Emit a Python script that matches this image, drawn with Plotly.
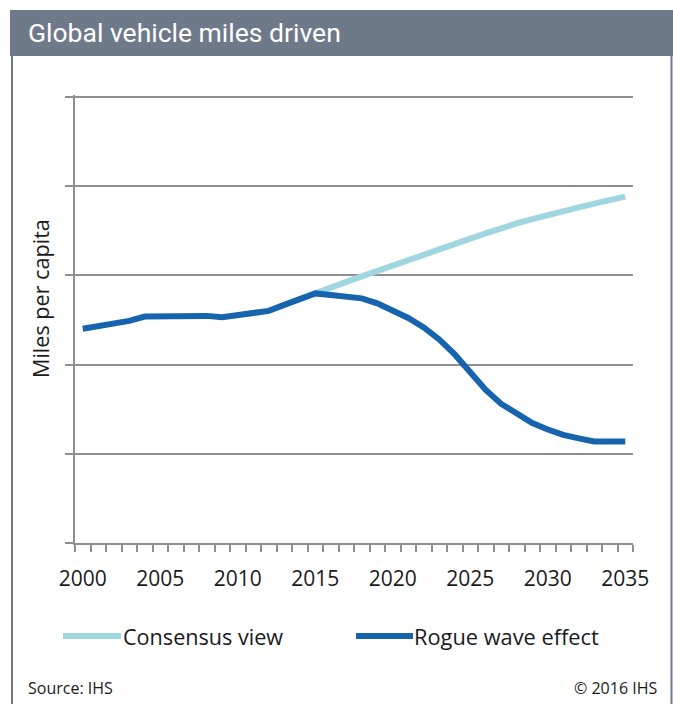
import plotly.graph_objects as go

# ---------------- data ----------------
years = list(range(2000, 2036))
rogue_wave = [2.40, 2.427, 2.455, 2.489, 2.537, 2.541, 2.548, 2.556, 2.545, 2.530,
              2.550, 2.573, 2.601, 2.668, 2.735, 2.797, 2.780, 2.769, 2.741, 2.685,
              2.612, 2.522, 2.416, 2.281, 2.113, 1.911, 1.715, 1.558, 1.446, 1.345,
              1.272, 1.211, 1.172, 1.138, 1.138, 1.138]
consensus = [None] * 15 + [2.797, 2.853, 2.926, 2.988, 3.046, 3.105, 3.167, 3.229,
                           3.289, 3.349, 3.410, 3.470, 3.531, 3.581, 3.629, 3.677,
                           3.722, 3.761, 3.803, 3.843, 3.882]
label_years = [2000, 2005, 2010, 2015, 2020, 2025, 2030, 2035]
grid_values = [0, 1, 2, 3, 4, 5]
series_names = ["Consensus view", "Rogue wave effect"]
title_text = "Global vehicle miles driven"
y_title = "Miles per capita"
source_text = "Source: IHS"
copyright_text = "© 2016 IHS"

# ---------------- style ----------------
W, H = 673, 704
ML, MR, MT, MB = 75, 40, 95, 161
PW, PH = W - ML - MR, H - MT - MB
LIGHT = "#9fd6df"
DARK = "#1764ae"
GRID = "#8f8f8f"
FRAME = "#6e7a8a"
TXT = "#1a1a1a"
FONT = "Open Sans"


def px(x):
    return (x - ML) / PW


def py(y):
    return (H - MB - y) / PH


fig = go.Figure()
fig.add_trace(go.Scatter(x=years, y=consensus, mode="lines", name=series_names[0],
                         line=dict(color=LIGHT, width=6), showlegend=False))
fig.add_trace(go.Scatter(x=years, y=rogue_wave, mode="lines", name=series_names[1],
                         line=dict(color=DARK, width=6), showlegend=False))

shapes = [
    # title bar
    dict(type="rect", xref="paper", yref="paper", x0=px(10), x1=px(673), y0=py(10), y1=py(56),
         fillcolor=FRAME, line=dict(width=0), layer="below"),
    # side borders
    dict(type="line", xref="paper", yref="paper", x0=px(12), x1=px(12), y0=py(56), y1=py(704),
         line=dict(color=FRAME, width=2)),
    dict(type="line", xref="paper", yref="paper", x0=px(671.5), x1=px(671.5), y0=py(56), y1=py(704),
         line=dict(color=FRAME, width=2)),
    # legend samples
    dict(type="line", xref="paper", yref="paper", x0=px(63), x1=px(121), y0=py(636), y1=py(636),
         line=dict(color=LIGHT, width=6)),
    dict(type="line", xref="paper", yref="paper", x0=px(356), x1=px(413), y0=py(636), y1=py(636),
         line=dict(color=DARK, width=6)),
]

annotations = [
    dict(text=title_text, xref="paper", yref="paper", x=px(26), y=py(33), xanchor="left",
         yanchor="middle", showarrow=False, font=dict(family="Roboto", size=26.5, color="white")),
    dict(text=y_title, xref="paper", yref="paper", x=px(40), y=py(299), xanchor="center",
         yanchor="middle", textangle=-90, showarrow=False, font=dict(family=FONT, size=21.6, color=TXT)),
    dict(text=series_names[0], xref="paper", yref="paper", x=px(121), y=py(636), xanchor="left",
         yanchor="middle", showarrow=False, font=dict(family=FONT, size=21.6, color=TXT)),
    dict(text=series_names[1], xref="paper", yref="paper", x=px(412), y=py(636), xanchor="left",
         yanchor="middle", showarrow=False, font=dict(family=FONT, size=21.8, color=TXT)),
    dict(text=source_text, xref="paper", yref="paper", x=px(26), y=py(688), xanchor="left",
         yanchor="middle", showarrow=False, font=dict(family=FONT, size=16, color=TXT)),
    dict(text=copyright_text, xref="paper", yref="paper", x=px(659), y=py(688), xanchor="right",
         yanchor="middle", showarrow=False, font=dict(family=FONT, size=16, color=TXT)),
]

fig.update_layout(
    width=W, height=H,
    margin=dict(l=ML, r=MR, t=MT, b=MB, pad=0),
    paper_bgcolor="white", plot_bgcolor="white",
    showlegend=False,
    shapes=shapes, annotations=annotations,
    xaxis=dict(range=[1999.5, 2035.5], tickmode="array", tickvals=label_years,
               ticktext=[str(v) for v in label_years], ticks="", showgrid=False,
               zeroline=False, showline=True, linecolor=GRID, linewidth=2,
               ticklabelstandoff=16,
               tickfont=dict(family=FONT, size=21, color=TXT),
               minor=dict(ticks="outside", tick0=1999.5, dtick=1, ticklen=7,
                          tickcolor=GRID, tickwidth=1.5, showgrid=False)),
    yaxis=dict(range=[0, 5.02], tickmode="array", tickvals=grid_values,
               showticklabels=False, ticks="outside", ticklen=8, tickcolor=GRID, tickwidth=2,
               showgrid=True, gridcolor=GRID, gridwidth=2, zeroline=False,
               showline=True, linecolor=GRID, linewidth=2),
)

fig.write_html("out.html")
